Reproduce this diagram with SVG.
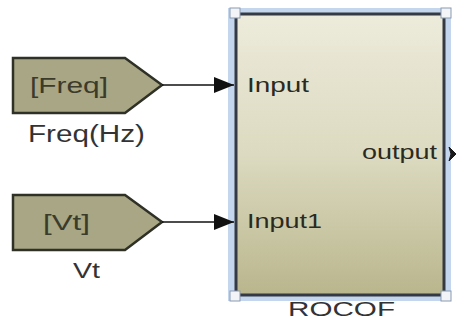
<svg xmlns="http://www.w3.org/2000/svg" width="456" height="328" viewBox="0 0 456 328">
<defs>
<linearGradient id="sub" x1="0" y1="0" x2="0" y2="1">
<stop offset="0" stop-color="#edebdb"/>
<stop offset="0.5" stop-color="#dcdac0"/>
<stop offset="1" stop-color="#b9b68d"/>
</linearGradient>
<marker id="arr" viewBox="0 0 20 16" refX="20" refY="8" markerWidth="20" markerHeight="16" markerUnits="userSpaceOnUse" orient="auto">
<path d="M0,0 L20,8 L0,16 z" fill="#111"/>
</marker>
<style>
.goto{fill:#a8a684;stroke:#2f3126;stroke-width:2.5}
.gt{font-family:"Liberation Sans",Arial,sans-serif;font-size:22px;fill:#3b3b2c}
.lbl{font-family:"Liberation Sans",Arial,sans-serif;fill:#333}
.port{font-family:"Liberation Sans",Arial,sans-serif;font-size:20px;fill:#2a2a22}
.wire{stroke:#111;stroke-width:1.5;fill:none}
.hdl{fill:#f2f4f8;stroke:#8a9ab0;stroke-width:1}
</style>
</defs>
<rect width="456" height="328" fill="#ffffff"/>
<g id="goto-freq">
<polygon class="goto" points="13,58 125,58 162,85 125,113 13,113"/>
<text class="gt" x="30" y="93" textLength="78" lengthAdjust="spacingAndGlyphs">[Freq]</text>
<text class="lbl" x="28" y="142" font-size="23" textLength="117" lengthAdjust="spacingAndGlyphs">Freq(Hz)</text>
</g>
<g id="goto-vt">
<polygon class="goto" points="13,195 125,195 162,222 125,250 13,250"/>
<text class="gt" x="43" y="230" textLength="47" lengthAdjust="spacingAndGlyphs">[Vt]</text>
<text class="lbl" x="73" y="278" font-size="22" textLength="27" lengthAdjust="spacingAndGlyphs">Vt</text>
</g>
<g id="rocof">
<rect x="228" y="8" width="223" height="293" fill="#c4d6ee"/>
<rect x="236" y="14" width="208" height="281" fill="url(#sub)" stroke="#343943" stroke-width="3"/>
<rect class="hdl" x="230" y="8" width="10" height="10"/>
<rect class="hdl" x="441" y="8" width="10" height="10"/>
<rect class="hdl" x="230" y="291" width="10" height="10"/>
<rect class="hdl" x="441" y="291" width="10" height="10"/>
<text class="port" x="247" y="92" textLength="62" lengthAdjust="spacingAndGlyphs">Input</text>
<text class="port" x="247" y="228" textLength="75" lengthAdjust="spacingAndGlyphs">Input1</text>
<text class="port" x="362" y="159" font-size="21" textLength="75" lengthAdjust="spacingAndGlyphs">output</text>
<path d="M449,147 L456,154 L449,161 L451,154 z" fill="#1a1a1a" stroke="#1a1a1a" stroke-width="1"/>
<text class="lbl" x="288" y="316" font-size="20" textLength="107" lengthAdjust="spacingAndGlyphs">ROCOF</text>
</g>
<g id="connectors">
<line class="wire" x1="162" y1="85" x2="234" y2="85" marker-end="url(#arr)"/>
<line class="wire" x1="162" y1="222" x2="234" y2="222" marker-end="url(#arr)"/>
</g>
</svg>
